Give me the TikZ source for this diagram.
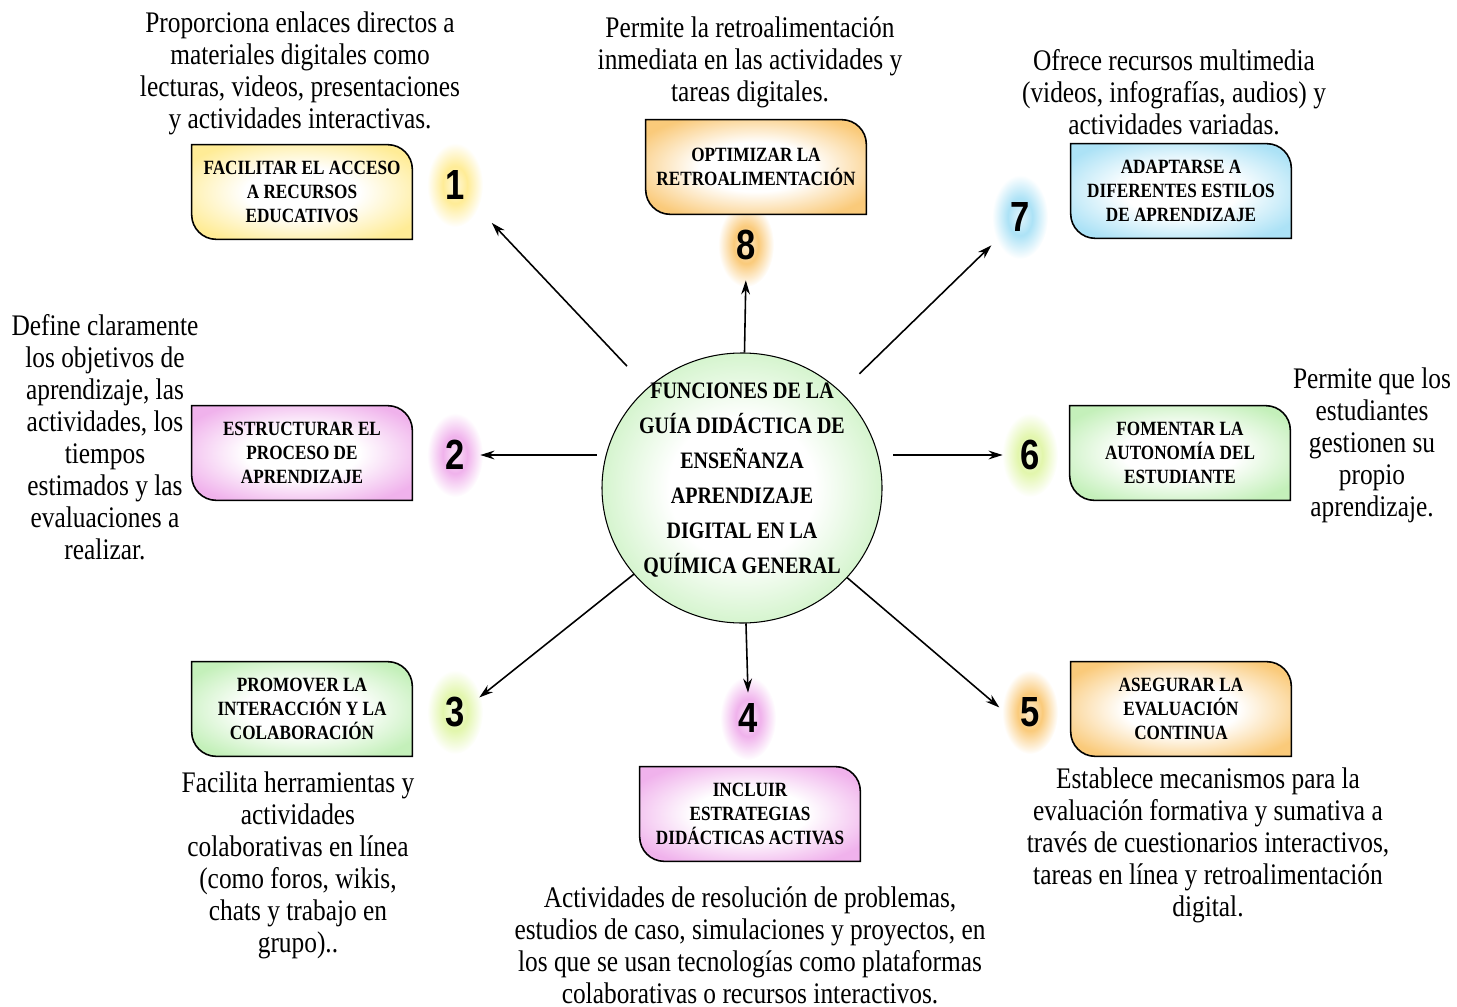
\documentclass[tikz,border=0pt]{standalone}
\usepackage{fontspec}
\setmainfont{Liberation Serif}[FakeStretch=0.85]
\newfontfamily\numfont{Liberation Sans}[FakeStretch=0.82]
\usetikzlibrary{arrows.meta,backgrounds,shapes.geometric}

\definecolor{glowyellow}{RGB}{255,236,150}
\definecolor{glowpink}{RGB}{240,178,236}
\definecolor{glowgreen}{RGB}{196,240,186}
\definecolor{gloworange}{RGB}{250,202,122}
\definecolor{glowblue}{RGB}{172,226,246}
\definecolor{glowlime}{RGB}{226,246,172}
\colorlet{glowc}{white}
\colorlet{glowd}{white}

\pgfdeclareradialshading[glowc]{softglow}{\pgfpoint{0bp}{0bp}}{color(0bp)=(white); color(13bp)=(white); color(30bp)=(glowc); color(50bp)=(glowc)}
\pgfdeclareradialshading[glowc,glowd]{numglow}{\pgfpoint{0bp}{0bp}}{color(0bp)=(glowd); color(11bp)=(glowc); color(25bp)=(white); color(50bp)=(white)}

\begin{document}
\begin{tikzpicture}[x=0.02cm,y=-0.02cm,
  desc/.style={align=center, font=\fontsize{17}{18.2}\selectfont, inner sep=0pt},
  funcbox/.style={align=center, font=\bfseries\fontsize{11.5}{13.7}\selectfont,
    minimum width=4.4cm, minimum height=1.88cm, inner sep=0pt},
  numlbl/.style={font=\numfont\bfseries\fontsize{24}{24}\selectfont, circle,
    minimum size=1cm, inner sep=0pt},
  link/.style={-{Stealth[length=8pt,width=5pt]}, line width=0.9pt}]

\useasboundingbox (0,0) rectangle (1457,1007);

\node[ellipse, minimum width=5.6cm, minimum height=5.4cm, inner sep=0pt] (c) at (742,488) {};
\node[align=center, font=\bfseries\fontsize{13.4}{20}\selectfont] (ctext) at (742,480)
  {FUNCIONES DE LA\\GUÍA DIDÁCTICA DE\\ENSEÑANZA\\APRENDIZAJE\\DIGITAL EN LA\\QUÍMICA GENERAL};

\node[funcbox] (b1) at (302,192) {FACILITAR EL ACCESO\\A RECURSOS\\EDUCATIVOS};
\node[funcbox] (b2) at (302,453) {ESTRUCTURAR EL\\PROCESO DE\\APRENDIZAJE};
\node[funcbox] (b3) at (302,709) {PROMOVER LA\\INTERACCIÓN Y LA\\COLABORACIÓN};
\node[funcbox] (b4) at (750,814) {INCLUIR\\ESTRATEGIAS\\DIDÁCTICAS ACTIVAS};
\node[funcbox] (b5) at (1181,709) {ASEGURAR LA\\EVALUACIÓN\\CONTINUA};
\node[funcbox] (b6) at (1180,453) {FOMENTAR LA\\AUTONOMÍA DEL\\ESTUDIANTE};
\node[funcbox] (b7) at (1181,191) {ADAPTARSE A\\DIFERENTES ESTILOS\\DE APRENDIZAJE};
\node[funcbox] (b8) at (756,167) {OPTIMIZAR LA\\RETROALIMENTACIÓN};

\foreach \k/\p in {1/{455,185},2/{455,455},3/{455,712},4/{748,718},
                   5/{1030,712},6/{1030,455},7/{1020,217},8/{746,245}}
  \node[numlbl] (n\k) at (\p) {\k};

\node[desc] (t1) at (300,73) {Proporciona enlaces directos a\\materiales digitales como\\lecturas, videos, presentaciones\\y actividades interactivas.};
\node[desc] (t2) at (105,437) {Define claramente\\los objetivos de\\aprendizaje, las\\actividades, los\\tiempos\\estimados y las\\evaluaciones a\\realizar.};
\node[desc] (t3) at (298,865) {Facilita herramientas y\\actividades\\colaborativas en línea\\(como foros, wikis,\\chats y trabajo en\\grupo)..};
\node[desc] (t4) at (750,945) {Actividades de resolución de problemas,\\estudios de caso, simulaciones y proyectos, en\\los que se usan tecnologías como plataformas\\colaborativas o recursos interactivos.};
\node[desc] (t5) at (1208,845) {Establece mecanismos para la\\evaluación formativa y sumativa a\\través de cuestionarios interactivos,\\tareas en línea y retroalimentación\\digital.};
\node[desc] (t6) at (1372,445) {Permite que los\\estudiantes\\gestionen su\\propio\\aprendizaje.};
\node[desc] (t7) at (1174,92) {Ofrece recursos multimedia\\(videos, infografías, audios) y\\actividades variadas.};
\node[desc] (t8) at (750,62) {Permite la retroalimentación\\inmediata en las actividades y\\tareas digitales.};

\draw[link, shorten <=0.6cm, shorten >=0.55cm] (c) -- (n1.south east);
\draw[link, shorten <=0.1cm] (c.west |- n2) -- (n2.east);
\draw[link, shorten >=0.06cm] (c) -- (n3.30);
\draw[link] (c) -- (n4.north);
\draw[link, shorten >=0.14cm] (c) -- (n5.west);
\draw[link, shorten <=0.22cm, shorten >=0.04cm] (c.east |- n6) -- (n6.west);
\draw[link, shorten <=0.52cm, shorten >=0.3cm] (c) -- (n7.south west);
\draw[link, shorten >=0.2cm] (c) -- (n8.south);

\begin{scope}[on background layer]
  \foreach \k/\c in {1/glowyellow,2/glowpink,3/glowlime,4/glowpink,
                     5/gloworange,6/glowlime,7/glowblue,8/gloworange} {
    \colorlet{glowc}{\c}
    \colorlet{glowd}{\c!35}
    \shade[shading=numglow] (n\k) ellipse [x radius=28, y radius=42];
  }
  \colorlet{glowc}{glowgreen}
  \path[shade, shading=softglow, draw, line width=0.6pt] (c.center) ellipse [x radius=140, y radius=135];
  \foreach \b/\c in {b1/glowyellow,b2/glowpink,b3/glowgreen,b4/glowpink,
                     b5/gloworange,b6/glowgreen,b7/glowblue,b8/gloworange} {
    \colorlet{glowc}{\c}
    \path[shade, shading=softglow, draw, line width=0.9pt]
      (\b.north west) -- ([xshift=-14pt]\b.north east)
      arc [start angle=90, end angle=0, radius=14pt] -- (\b.south east)
      -- ([xshift=14pt]\b.south west)
      arc [start angle=270, end angle=180, radius=14pt] -- cycle;
  }
\end{scope}
\end{tikzpicture}
\end{document}
